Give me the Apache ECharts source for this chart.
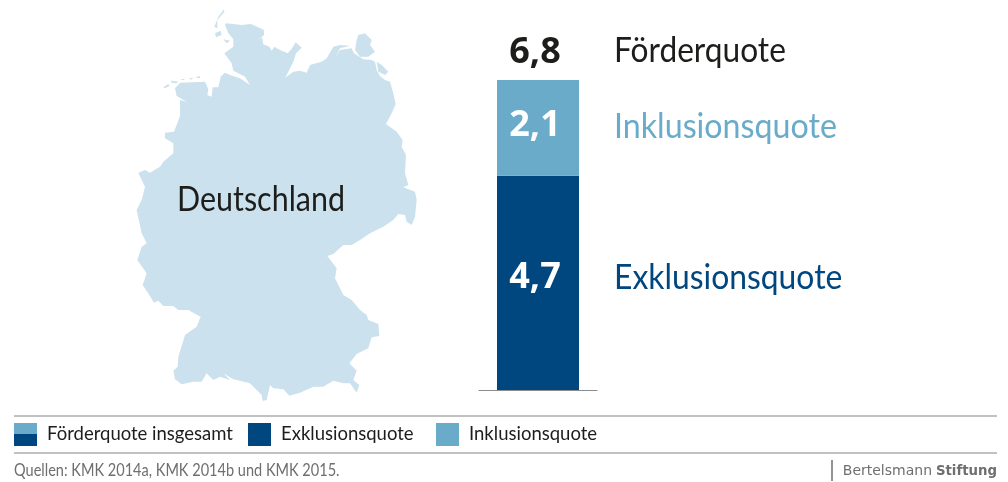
<!DOCTYPE html>
<html><head><meta charset="utf-8">
<style>html,body{margin:0;padding:0;background:#fff}#c{width:1008px;height:482px}</style>
<script src="https://cdn.jsdelivr.net/npm/echarts@6/dist/echarts.min.js"></script>
</head><body><div id="c"></div>
<script>
const categories = ['Deutschland'];
const exklusion = [4.7];
const inklusion = [2.1];
const gesamt = [6.8];
const legendNames = ['Förderquote insgesamt', 'Exklusionsquote', 'Inklusionsquote'];
const DARK = '#00467f', LIGHT = '#6aabc9', MAPC = '#cbe1ed', INK = '#1d1d1b', GREY = '#6f6f6e';
const FONT = 'Lato,sans-serif';
const BOLD = '"Open Sans",sans-serif';

// Outline of Germany
const mainland = [[287,70],[310,72],[335,75],[362,72],[385,82],[402,90],[402,105],[383,120],[396,112],[400,133],[418,140],[425,152],[433,140],[450,150],[473,160],[485,146],[497,127],[515,143],[498,160],[490,185],[470,225],[465,233],[490,215],[510,212],[530,218],[540,195],[575,185],[590,175],[610,140],[630,135],[660,137],[630,145],[617,170],[630,150],[665,145],[672,160],[700,178],[725,180],[735,185],[740,210],[750,228],[765,240],[780,245],[790,280],[797,312],[785,340],[768,372],[800,395],[818,420],[815,440],[828,465],[825,520],[835,555],[820,562],[855,575],[860,600],[855,650],[845,675],[830,665],[825,645],[805,642],[790,660],[760,680],[720,700],[690,720],[665,735],[640,735],[610,762],[592,768],[620,805],[615,835],[640,885],[665,900],[690,930],[710,945],[715,960],[745,972],[748,1008],[725,1012],[715,1045],[680,1062],[658,1090],[680,1112],[670,1140],[688,1155],[680,1178],[660,1150],[640,1150],[610,1142],[580,1160],[550,1160],[510,1178],[478,1187],[460,1168],[430,1165],[420,1155],[410,1200],[398,1203],[395,1185],[360,1150],[310,1138],[280,1120],[300,1140],[270,1130],[250,1140],[230,1120],[215,1145],[190,1145],[155,1153],[135,1138],[130,1112],[143,1100],[145,1070],[165,1005],[200,980],[212,950],[175,930],[145,930],[130,918],[100,918],[85,902],[72,908],[58,885],[38,855],[50,820],[22,780],[35,740],[50,730],[35,700],[20,630],[35,600],[45,560],[25,518],[45,510],[60,518],[90,500],[100,485],[130,460],[130,430],[105,415],[105,398],[132,395],[150,348],[150,300],[170,305],[140,288],[135,265],[150,248],[225,245],[235,268],[232,285],[245,290],[248,262],[265,262],[272,230],[285,218],[300,225],[330,235],[360,255],[345,230],[310,212],[305,190],[283,160],[310,140],[310,118],[295,100],[285,75]];
const islands = [
 [[282,28],[265,50],[253,80],[262,85],[262,60],[283,35]],
 [[255,100],[272,92],[275,105],[258,112]],
 [[280,118],[300,122],[290,130]],
 [[100,262],[115,252],[118,258],[105,265]],
 [[122,242],[145,245],[140,250],[125,248]],
 [[150,237],[165,237],[160,241]],
 [[178,233],[190,235],[182,239]],
 [[195,232],[210,228],[210,235]],
 [[685,105],[705,100],[725,120],[720,135],[735,155],[715,170],[690,170],[675,150],[680,120]],
 [[740,185],[755,195],[775,215],[765,225],[745,215]]
];
const toPx = p => [130 + p[0] / 3, p[1] / 3];
const rings = [mainland].concat(islands).map(r => { const q = r.map(toPx); q.push(q[0]); return [q]; });
const allPts = rings.flatMap(r => r[0]);
const xs = allPts.map(p => p[0]), ys = allPts.map(p => p[1]);
const box = { l: Math.min(...xs), t: Math.min(...ys), r: Math.max(...xs), b: Math.max(...ys) };
echarts.registerMap('de', { type: 'FeatureCollection', features: [{ type: 'Feature', properties: { name: 'Deutschland' }, geometry: { type: 'MultiPolygon', coordinates: rings } }] });

const chart = echarts.init(document.getElementById('c'));
const txt = (x, y, text, size, color, o) => {
  o = o || {};
  return { type: 'text', x, y, z: 100, silent: true, scaleX: o.sx || 1, originX: 0, originY: 0,
    style: { text, fontSize: size, fill: color, fontFamily: o.font || FONT, fontWeight: o.weight || 'normal', align: o.align || 'left', verticalAlign: 'middle' } };
};
const rule = (x1, y1, x2, y2, c, w) => ({ type: 'line', z: 100, silent: true, shape: { x1, y1, x2, y2 }, style: { stroke: c || '#adadad', lineWidth: w || 1.5 } });
const valueLabel = p => String(p.value).replace('.', ',');
const legendBase = { top: 423, itemWidth: 23, itemHeight: 23, itemGap: 15, padding: 0, selectedMode: false, icon: 'rect',
  textStyle: { fontFamily: FONT, fontSize: 18.5, color: INK, padding: [0, 0, 0, 5] } };

chart.setOption({
  animation: false,
  backgroundColor: '#fff',
  geo: { map: 'de', silent: true, roam: false, projection: { project: p => p, unproject: p => p },
    left: box.l, top: box.t, width: box.r - box.l, height: box.b - box.t,
    itemStyle: { areaColor: MAPC, borderWidth: 0 }, label: { show: false } },
  grid: { left: 479, width: 118, top: 80, height: 310 },
  xAxis: { type: 'category', data: categories, axisTick: { show: false }, axisLabel: { show: false }, axisLine: { lineStyle: { color: '#8c8c8c', width: 1 } } },
  yAxis: { type: 'value', min: 0, max: 6.8, show: false },
  legend: [
    Object.assign({}, legendBase, { left: 14, data: legendNames.slice(0, 2) }),
    Object.assign({}, legendBase, { left: 436, data: legendNames.slice(2) })
  ],
  series: [
    { name: legendNames[0], type: 'bar', data: gesamt.map(v => ({ value: v, itemStyle: { color: 'rgba(0,0,0,0)' } })), barWidth: 82, barGap: '-100%', z: 1,
      itemStyle: { color: { type: 'linear', x: 0, y: 0, x2: 0, y2: 1, colorStops: [{ offset: 0, color: LIGHT }, { offset: 0.5, color: LIGHT }, { offset: 0.5, color: DARK }, { offset: 1, color: DARK }] } },
      label: { show: true, position: 'top', distance: 9, offset: [-3, 0], fontFamily: BOLD, fontWeight: 'bold', fontSize: 36, color: INK, formatter: valueLabel } },
    { name: legendNames[1], type: 'bar', stack: 'q', data: exklusion, barWidth: 82, z: 2, itemStyle: { color: DARK },
      label: { show: true, position: 'inside', offset: [-3, -5], fontFamily: BOLD, fontWeight: 'bold', fontSize: 36, color: '#fff', formatter: valueLabel } },
    { name: legendNames[2], type: 'bar', stack: 'q', data: inklusion, barWidth: 82, z: 2, itemStyle: { color: LIGHT },
      label: { show: true, position: 'inside', offset: [-3, -2], fontFamily: BOLD, fontWeight: 'bold', fontSize: 36, color: '#fff', formatter: valueLabel } }
  ],
  graphic: [
    txt(261, 200, 'Deutschland', 35, INK, { align: 'center', sx: 0.87 }),
    txt(614, 51, 'Förderquote', 35, INK, { sx: 0.905 }),
    txt(614, 127, 'Inklusionsquote', 35, LIGHT, { sx: 0.92 }),
    txt(614, 278, 'Exklusionsquote', 35, DARK, { sx: 0.91 }),
    rule(14, 416, 997, 416), rule(14, 453, 997, 453),
    txt(14, 471, 'Quellen: KMK 2014a, KMK 2014b und KMK 2015.', 17, GREY, { sx: 0.855 }),
    rule(832, 460, 832, 481, GREY, 1.5),
    txt(932, 471, 'Bertelsmann', 14, GREY, { align: 'right', font: '"DejaVu Sans",sans-serif' }),
    txt(997, 471, 'Stiftung', 14, GREY, { align: 'right', weight: 'bold', font: '"DejaVu Sans",sans-serif', sx: 0.95 })
  ]
});
</script></body></html>
